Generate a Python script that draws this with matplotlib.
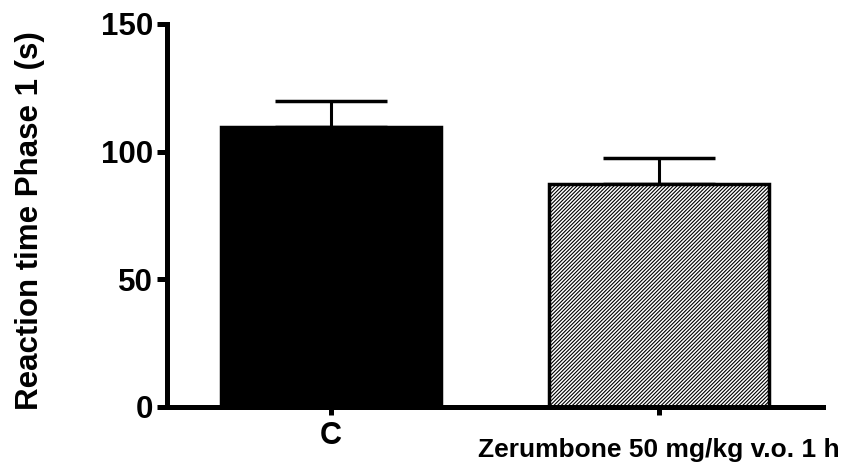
import numpy as np
import matplotlib.pyplot as plt

plt.rcParams.update({'font.family': ['Liberation Sans', 'DejaVu Sans'],
                     'font.weight': 'bold',
                     'hatch.linewidth': 0.8})

groups = ["C", "Zerumbone 50 mg/kg v.o. 1 h"]
means = [109.5, 87.5]
sems = [10.5, 10.0]

fig = plt.figure(figsize=(8.52, 4.63), dpi=100)
ax = fig.add_axes([167/852, 56/463, (823-167)/852, (407-24)/463])

x = np.arange(len(groups))
bars = ax.bar(x, means, width=0.67, color=["black", "white"],
              edgecolor="black", linewidth=2.5, zorder=2)
bars[1].set_hatch("/////////")

ax.errorbar(x, means, yerr=[np.zeros(len(sems)), sems], fmt="none",
            ecolor="black", elinewidth=2.2, capsize=40, capthick=2.5, zorder=1)

ax.set_xlim(-0.5, 1.5)
ax.set_ylim(0, 150)
ax.set_yticks([0, 50, 100, 150])
ax.set_xticks(x)
ax.set_xticklabels(groups)

for side in ["top", "right"]:
    ax.spines[side].set_visible(False)
for side in ["left", "bottom"]:
    ax.spines[side].set_linewidth(3.6)
ax.spines["left"].set_bounds(0, 150)

ax.tick_params(axis="y", length=7, width=3.6, labelsize=22.5, pad=3)
ax.tick_params(axis="x", length=6, width=3.6, pad=4)
xt = ax.xaxis.get_major_ticks()
xt[0].label1.set_fontsize(22)
xt[1].label1.set_fontsize(19)
xt[1].set_pad(16)

ax.set_ylabel("Reaction time Phase 1 (s)", fontsize=22.5, fontweight="bold", labelpad=40)
ax.yaxis.label.set_y(0.487)

plt.savefig("out.png", dpi=100)
